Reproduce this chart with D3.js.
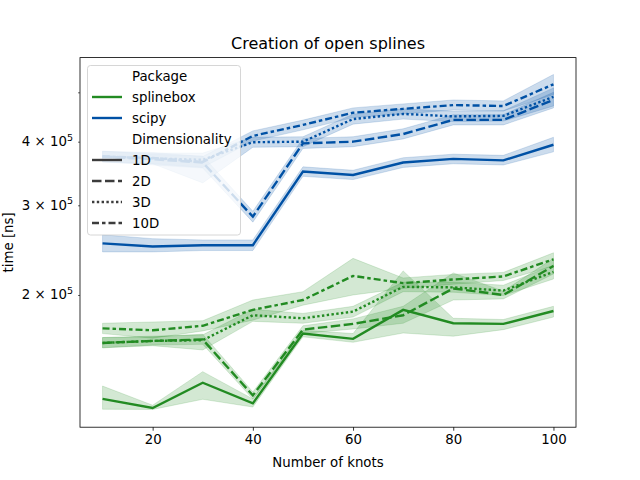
<!DOCTYPE html>
<html>
<head>
<meta charset="utf-8">
<script src="https://cdn.jsdelivr.net/npm/d3@7"></script>
<style>
  body { margin: 0; background: #fff; }
  text { font-family: "DejaVu Sans", sans-serif; fill: #000; }
</style>
</head>
<body>
<div id="chart"></div>
<script>
// number of knots (x) and timings in ns
const knots = [10, 20, 30, 40, 50, 60, 70, 80, 90, 100];
const packages = ['splinebox', 'scipy'];
const dims = ['1D', '2D', '3D', '10D'];
const xTicks = [20, 40, 60, 80, 100];
const yTicks = [200000, 300000, 400000, 500000];

const sb1D    = [125000, 120000, 134500, 122500, 168000, 164000, 187000, 176000, 175500, 186000];
const sb1D_lo = [119300, 119200, 124800, 120500, 165500, 161500, 168400, 166000, 171000, 181000];
const sb1D_hi = [132500, 121500, 141400, 125000, 170500, 168000, 223000, 180000, 179000, 190000];
const sb2D    = [161000, 162500, 163500, 127000, 171000, 175500, 182500, 206000, 200000, 228000];
const sb2D_lo = [157500, 159500, 160000, 125000, 168000, 171500, 176000, 195500, 196500, 220000];
const sb2D_hi = [165000, 165500, 167500, 129000, 174000, 179500, 190000, 221000, 203500, 236000];
const sb3D    = [161000, 162500, 163000, 182500, 180000, 185500, 207500, 207000, 204000, 222000];
const sb3D_lo = [157500, 159000, 156000, 177500, 176000, 181000, 203000, 202500, 199500, 215000];
const sb3D_hi = [165000, 166000, 167000, 187500, 184000, 190000, 212000, 212000, 209000, 229000];
const sb10D    = [172000, 170500, 174000, 187000, 195500, 218000, 211000, 214500, 217500, 235000];
const sb10D_lo = [168000, 164500, 170000, 178500, 191000, 200000, 206000, 210000, 213500, 228000];
const sb10D_hi = [176000, 177000, 178000, 195500, 203000, 236000, 216000, 219500, 221500, 242000];

const sp1D    = [252500, 249000, 250500, 250500, 349500, 344000, 364000, 370000, 367500, 394500];
const sp1D_lo = [243000, 243000, 244500, 244500, 342000, 337000, 356000, 362000, 360000, 382000];
const sp1D_hi = [262500, 258000, 256500, 256500, 357000, 351500, 372000, 378000, 376000, 408000];
const sp2D    = [374000, 369500, 364000, 285000, 397000, 400000, 414000, 441500, 441500, 483000];
const sp2D_lo = [365000, 360000, 355000, 278000, 388000, 391000, 405000, 431500, 431500, 466000];
const sp2D_hi = [383000, 378000, 375000, 292000, 406000, 409000, 424000, 452000, 452000, 500000];
const sp3D    = [374000, 371000, 368500, 399000, 400000, 443000, 453500, 448500, 449500, 490000];
const sp3D_lo = [365000, 362000, 332000, 390000, 391000, 433000, 443000, 438000, 439000, 470000];
const sp3D_hi = [383000, 380000, 380000, 408000, 409000, 453000, 464000, 459000, 460000, 510000];
const sp10D    = [374000, 371500, 365000, 410500, 431500, 456000, 464000, 472000, 470000, 518500];
const sp10D_lo = [365000, 362000, 356000, 401000, 422000, 446000, 453500, 461500, 459500, 495000];
const sp10D_hi = [383000, 381000, 374000, 420000, 441000, 466000, 474500, 483000, 481000, 542000];

const colors = {splinebox: '#228b22', scipy: '#0051a5'};
const dashes = {'1D': null, '2D': '9.5,3.5', '3D': '2.4,2.4', '10D': '7,3,3.5,3'};
const lw = 2.4;

const series = [
  {pkg: 'splinebox', dim: '1D', m: sb1D, lo: sb1D_lo, hi: sb1D_hi},
  {pkg: 'splinebox', dim: '2D', m: sb2D, lo: sb2D_lo, hi: sb2D_hi},
  {pkg: 'splinebox', dim: '3D', m: sb3D, lo: sb3D_lo, hi: sb3D_hi},
  {pkg: 'splinebox', dim: '10D', m: sb10D, lo: sb10D_lo, hi: sb10D_hi},
  {pkg: 'scipy', dim: '1D', m: sp1D, lo: sp1D_lo, hi: sp1D_hi},
  {pkg: 'scipy', dim: '2D', m: sp2D, lo: sp2D_lo, hi: sp2D_hi},
  {pkg: 'scipy', dim: '3D', m: sp3D, lo: sp3D_lo, hi: sp3D_hi},
  {pkg: 'scipy', dim: '10D', m: sp10D, lo: sp10D_lo, hi: sp10D_hi}
];

const width = 640;
const height = 480;
const margin = {top: 57.6, right: 64, bottom: 52.8, left: 80};

const svg = d3.select('#chart').append('svg')
    .attr('width', width)
    .attr('height', height);

const x = d3.scaleLinear()
    .domain([5.5, 104.5])
    .range([margin.left, width - margin.right]);

const y = d3.scaleLog()
    .domain([110000, 585000])
    .range([height - margin.bottom, margin.top]);

const area = d3.area()
    .x((d, i) => x(knots[i]))
    .y0(d => y(d[0]))
    .y1(d => y(d[1]));

const line = d3.line()
    .x((d, i) => x(knots[i]))
    .y(d => y(d));

const plot = svg.append('g');

series.forEach(s => {
  plot.append('path')
      .datum(s.lo.map((v, i) => [v, s.hi[i]]))
      .attr('d', area)
      .attr('fill', colors[s.pkg])
      .attr('fill-opacity', 0.2)
      .attr('stroke', colors[s.pkg])
      .attr('stroke-opacity', 0.2)
      .attr('stroke-width', 0.8);
  plot.append('path')
      .datum(s.m)
      .attr('d', line)
      .attr('fill', 'none')
      .attr('stroke', colors[s.pkg])
      .attr('stroke-width', lw)
      .attr('stroke-dasharray', dashes[s.dim]);
});

// x axis
const xAxis = svg.append('g')
    .attr('transform', `translate(0,${height - margin.bottom})`)
    .call(d3.axisBottom(x).tickValues(xTicks).tickSize(3.5).tickSizeOuter(0).tickPadding(3.5));
xAxis.select('.domain').remove();
xAxis.selectAll('text').attr('font-size', 13.33).attr('font-family', 'DejaVu Sans');
xAxis.selectAll('line').attr('stroke-width', 0.8);

// y axis, labels as a x 10^5
const yAxis = svg.append('g')
    .attr('transform', `translate(${margin.left},0)`)
    .call(d3.axisLeft(y).tickValues(yTicks).tickSize(2).tickSizeOuter(0).tickFormat(''));
yAxis.select('.domain').remove();
yAxis.selectAll('line').attr('stroke-width', 0.6);

yTicks.slice(0, 3).forEach(v => {
  const e = Math.floor(Math.log10(v));
  const t = svg.append('text')
      .attr('x', margin.left - 7)
      .attr('y', y(v) + 4.5)
      .attr('text-anchor', 'end')
      .attr('font-size', 13.33);
  t.append('tspan').text(`${Math.round(v / 10 ** e)} × 10`);
  t.append('tspan').attr('dy', -5.5).attr('font-size', 9.5).text(e);
});

// frame
svg.append('rect')
    .attr('x', margin.left)
    .attr('y', margin.top)
    .attr('width', width - margin.left - margin.right)
    .attr('height', height - margin.top - margin.bottom)
    .attr('fill', 'none')
    .attr('stroke', '#000')
    .attr('stroke-width', 0.8);

svg.append('text')
    .attr('x', (margin.left + width - margin.right) / 2)
    .attr('y', 49)
    .attr('text-anchor', 'middle')
    .attr('font-size', 16)
    .text('Creation of open splines');

svg.append('text')
    .attr('x', (margin.left + width - margin.right) / 2)
    .attr('y', 467)
    .attr('text-anchor', 'middle')
    .attr('font-size', 13.33)
    .text('Number of knots');

svg.append('text')
    .attr('transform', `translate(13,${(margin.top + height - margin.bottom) / 2}) rotate(-90)`)
    .attr('text-anchor', 'middle')
    .attr('font-size', 13.33)
    .text('time [ns]');

// legend
const legend = svg.append('g');
legend.append('rect')
    .attr('x', 87.5).attr('y', 65.5)
    .attr('width', 153).attr('height', 169.5)
    .attr('rx', 3)
    .attr('fill', '#fff').attr('fill-opacity', 0.8)
    .attr('stroke', '#ccc').attr('stroke-width', 0.8);

const entries = [{label: 'Package'}]
    .concat(packages.map(p => ({label: p, color: colors[p], dash: null})))
    .concat([{label: 'Dimensionality'}])
    .concat(dims.map(d => ({label: d, color: '#3c3c3c', dash: dashes[d]})));

entries.forEach((e, i) => {
  const cy = 76 + i * 21;
  if (e.color) {
    legend.append('line')
        .attr('x1', 92).attr('x2', 122)
        .attr('y1', cy).attr('y2', cy)
        .attr('stroke', e.color)
        .attr('stroke-width', lw)
        .attr('stroke-dasharray', e.dash);
  }
  legend.append('text')
      .attr('x', 132)
      .attr('y', cy + 4.8)
      .attr('font-size', 13.33)
      .text(e.label);
});
</script>
</body>
</html>
